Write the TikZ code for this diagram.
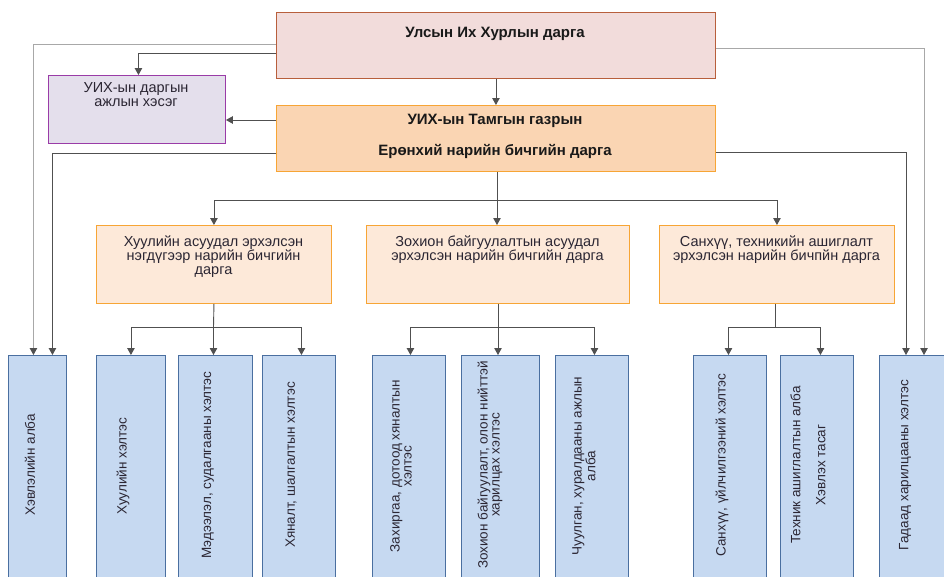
\documentclass[tikz,border=0pt]{standalone}
\usepackage{fontspec}
\setmainfont{Liberation Sans}
\usetikzlibrary{arrows.meta,calc}
\definecolor{topfill}{HTML}{F2DCDB}
\definecolor{topdraw}{HTML}{B85F3C}
\definecolor{tamfill}{HTML}{FAD5B3}
\definecolor{orgdraw}{HTML}{F7A535}
\definecolor{purfill}{HTML}{E4DFEC}
\definecolor{purdraw}{HTML}{9A3BA7}
\definecolor{midfill}{HTML}{FDE9D9}
\definecolor{blufill}{HTML}{C6D9F1}
\definecolor{bludraw}{HTML}{4A6FA0}
\definecolor{linedark}{HTML}{505050}
\definecolor{linelight}{HTML}{A8A8A8}
\definecolor{txtcol}{HTML}{2B2633}
\tikzset{
  boxbase/.style={rectangle, inner sep=0pt, line width=0.9pt},
  topbox/.style={boxbase, fill=topfill, draw=topdraw},
  tambox/.style={boxbase, fill=tamfill, draw=orgdraw},
  purbox/.style={boxbase, fill=purfill, draw=purdraw},
  midbox/.style={boxbase, fill=midfill, draw=orgdraw},
  blubox/.style={boxbase, fill=blufill, draw=bludraw},
  boldtxt/.style={font=\fontsize{15}{17}\selectfont\bfseries, text=black!90, inner sep=0pt},
  midtxt/.style={font=\fontsize{14.5}{14}\selectfont, text=txtcol, align=center, inner sep=0pt},
  vtxt/.style={font=\fontsize{13.5}{12}\selectfont, text=txtcol, align=center, inner sep=0pt, rotate=90},
  arr/.style={draw=linedark, line width=0.9pt, -{Triangle[width=7.5pt,length=7pt]}},
  arrl/.style={draw=linelight, line width=0.9pt, -{Triangle[width=7.5pt,length=7pt,color=linedark,fill=linedark]}},
  ln/.style={draw=linedark, line width=0.9pt}
}
\newcommand{\mkbox}[6]{% style, name, x1, y1, x2, y2
  \node[#1, anchor=north west, minimum width=#5pt-#3pt, minimum height=#6pt-#4pt] (#2) at (#3,#4) {};}
\begin{document}
\begin{tikzpicture}[x=1pt,y=-1pt]
\useasboundingbox (0,0) rectangle (944,576);
\clip (0,0) rectangle (944,576);
\fill[white] (0,0) rectangle (944,576);

% boxes
\mkbox{topbox}{top}{276}{12}{715}{78}
\mkbox{purbox}{pur}{48}{75}{225}{143}
\mkbox{tambox}{tam}{276}{105}{715}{171}
\mkbox{midbox}{m1}{96}{225}{331}{303}
\mkbox{midbox}{m2}{366}{225}{629}{303}
\mkbox{midbox}{m3}{659}{225}{894}{303}
\mkbox{blubox}{b0}{8}{355}{66}{600}
\mkbox{blubox}{b1}{96}{355}{165}{600}
\mkbox{blubox}{b2}{178}{355}{252}{600}
\mkbox{blubox}{b3}{262}{355}{335}{600}
\mkbox{blubox}{b4}{372}{355}{445}{600}
\mkbox{blubox}{b5}{461}{355}{539}{600}
\mkbox{blubox}{b6}{555}{355}{628}{600}
\mkbox{blubox}{b7}{693}{355}{766}{600}
\mkbox{blubox}{b8}{780}{355}{853}{600}
\mkbox{blubox}{b9}{879}{355}{955}{600}

% texts
\node[boldtxt] (ttop) at (495,34) {Улсын Их Хурлын дарга};
\node[boldtxt] (ttam1) at (495,121) {УИХ-ын Тамгын газрын};
\node[boldtxt] (ttam2) at (495,151) {Ерөнхий нарийн бичгийн дарга};
\node[midtxt, anchor=north] (tpur) at (136,82) {УИХ-ын даргын\\ажлын хэсэг};
\node[midtxt, anchor=north] (tm1) at (213.5,235.5) {Хуулийн асуудал эрхэлсэн\\нэгдүгээр нарийн бичгийн\\дарга};
\node[midtxt, anchor=north] (tm2) at (497.5,235.5) {Зохион байгуулалтын асуудал\\эрхэлсэн нарийн бичгийн дарга};
\node[midtxt, anchor=north] (tm3) at (776.5,235.5) {Санхүү, техникийн ашиглалт\\эрхэлсэн нарийн бичпйн дарга};

\node[vtxt] (tb0) at (30,465) {Хэвлэлийн алба};
\node[vtxt] (tb1) at (123,466) {Хуулийн хэлтэс};
\node[vtxt] (tb2) at (208,465) {Мэдээлэл, судалгааны хэлтэс};
\node[vtxt] (tb3) at (291,465) {Хяналт, шалгалтын хэлтэс};
\node[vtxt] (tb4) at (401,466) {Захиргаа, дотоод хяналтын\\хэлтэс};
\node[vtxt] (tb5) at (490,465) {Зохион байгуулалт, олон нийттэй\\харилцах хэлтэс};
\node[vtxt] (tb6) at (584,466) {Чуулган, хуралдааны ажлын\\алба};
\node[vtxt] (tb7) at (722,465) {Санхүү, үйлчилгээний хэлтэс};
\node[vtxt] (tb8) at (808,465) {Техник ашиглалтын алба\\[13pt]Хэвлэх тасаг};
\node[vtxt] (tb9) at (905,465) {Гадаад харилцааны хэлтэс};

% connectors from top box
\draw[arrl] (top.west |- 0,44) -| ([xshift=-4pt]b0.north);
\draw[arr] (top.west |- 0,53) -| ([xshift=1.5pt]pur.north);
\draw[arrl] (top.east |- 0,48) -| (b9.north -| 924,0);
\draw[arr] (top.south) -- (tam.north);

% connectors from tamga
\draw[arr] (tam.west |- 0,120) -- (pur.east |- 0,120);
\draw[arr] (tam.west |- 0,153) -| ([xshift=15pt]b0.north);
\draw[arr] (tam.east |- 0,152) -| (b9.north -| 906,0);
\coordinate (j0) at (497,200);
\draw[ln] (tam.south -| j0) -- (j0);
\draw[arr] (j0) -| (m1.north);
\draw[arr] (j0) -- (m2.north -| j0);
\draw[arr] (j0) -| (m3.north);

% middle to bottom
\coordinate (j1) at (213.5,327);
\draw[ln] (m1.south) -- (j1);
\draw[arr] (j1) -| (b1.north);
\draw[arr] (j1) -- (b2.north -| j1);
\draw[arr] (j1) -| ([xshift=2.5pt]b3.north);

\coordinate (j2) at (498,327);
\draw[ln] (m2.south -| j2) -- (j2);
\draw[arr] (j2) -| ([xshift=1.5pt]b4.north);
\draw[arr] (j2) -- (b5.north -| j2);
\draw[arr] (j2) -| ([xshift=2.5pt]b6.north);

\coordinate (j3) at (775,327);
\draw[ln] (m3.south -| j3) -- (j3);
\draw[arr] (j3) -| ([xshift=-1.5pt]b7.north);
\draw[arr] (j3) -| ([xshift=3.5pt]b8.north);
\end{tikzpicture}
\end{document}
